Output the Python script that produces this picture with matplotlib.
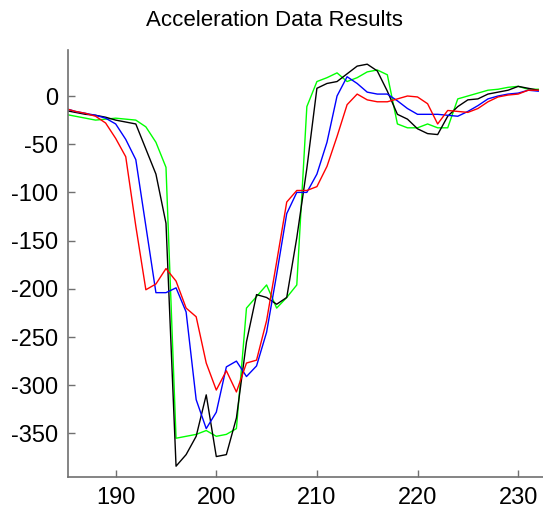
import numpy as np
import matplotlib
matplotlib.use("Agg")
import matplotlib.pyplot as plt

plt.rcParams['font.family'] = ['Liberation Sans', 'DejaVu Sans']
plt.rcParams['axes.unicode_minus'] = False

# sample index and the four acceleration traces
t = np.arange(185, 233)

acc_red = [-13, -16, -18, -21, -28, -44, -63, -135, -201, -195,
           -179, -192, -220, -229, -277, -305, -285, -307, -277, -274,
           -233, -172, -110, -98, -98, -94, -73, -42, -9, 2,
           -4, -6, -6, -3, 0, -1, -8, -29, -15, -16,
           -17, -13, -6, -1, 1, 2, 6, 6]

acc_blue = [-13, -16, -18, -20, -23, -29, -45, -66, -135, -204,
            -204, -199, -224, -315, -345, -328, -281, -275, -291, -280,
            -245, -185, -122, -100, -100, -81, -48, 0, 20, 13,
            4, 2, 2, -5, -13, -19, -19, -19, -20, -21,
            -16, -10, -3, 0, 2, 3, 6, 5]

acc_black = [-15, -17, -19, -20, -22, -25, -27, -29, -55, -81,
             -132, -384, -372, -353, -310, -374, -372, -334, -255, -206,
             -209, -216, -209, -147, -75, 8, 13, 15, 23, 31,
             33, 26, 5, -19, -24, -34, -39, -40, -21, -11,
             -4, -3, 2, 4, 6, 10, 8, 6]

acc_green = [-19, -21, -23, -25, -24, -23, -24, -25, -32, -48,
             -74, -355, -353, -351, -347, -353, -351, -345, -220, -208,
             -196, -220, -209, -196, -11, 15, 19, 24, 15, 19,
             25, 27, 22, -29, -33, -33, -29, -33, -33, -3,
             0, 3, 6, 7, 9, 10, 7, 7]

fig = plt.figure(figsize=(5.43, 5.13), dpi=100)
ax = fig.add_axes([0.1252, 0.0702, 0.8748, 0.8323])

ax.plot(t, acc_green, color='#00ff00', linewidth=1.0)
ax.plot(t, acc_black, color='black', linewidth=1.0)
ax.plot(t, acc_blue, color='#0000ff', linewidth=1.0)
ax.plot(t, acc_red, color='#ff0000', linewidth=1.0)

ax.set_xlim(185.26, 232.47)
ax.set_ylim(-395.2, 47.7)
ax.set_xticks([190, 200, 210, 220, 230])
ax.set_yticks(np.arange(-350, 1, 50))

ax.spines['top'].set_visible(False)
ax.spines['right'].set_visible(False)
for side in ('left', 'bottom'):
    ax.spines[side].set_color('#707070')
    ax.spines[side].set_linewidth(1.2)

ax.tick_params(direction='in', length=5, width=1, color='#707070',
               labelsize=17, pad=7)

ax.set_title('Acceleration Data Results', fontsize=16, pad=17, x=0.434)

fig.savefig('out.png', dpi=100)
